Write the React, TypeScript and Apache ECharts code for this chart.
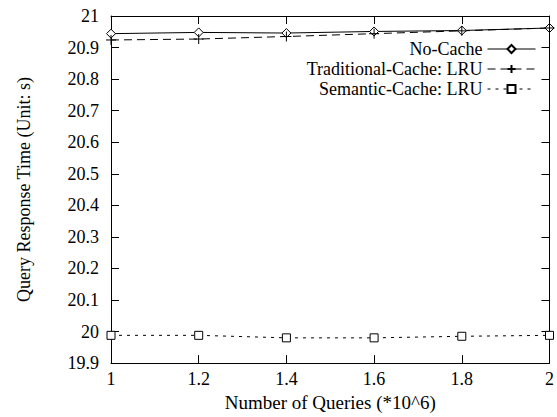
import React, { useEffect, useRef } from "react";
import * as echarts from "echarts";

const xValues = [1, 1.2, 1.4, 1.6, 1.8, 2];
const noCache = [20.944, 20.948, 20.946, 20.951, 20.954, 20.962];
const traditionalLRU = [20.924, 20.927, 20.935, 20.944, 20.953, 20.962];
const semanticLRU = [19.988, 19.988, 19.98, 19.98, 19.985, 19.988];
const seriesNames = ["No-Cache", "Traditional-Cache: LRU", "Semantic-Cache: LRU"];

const FONT = "Liberation Serif";
const FS = 18;

export default function App() {
  const ref = useRef<HTMLDivElement>(null);
  useEffect(() => {
    if (!ref.current) return;
    const chart = echarts.init(ref.current, null, { renderer: "svg" });
    const pair = (ys: number[]) => xValues.map((x, i) => [x, ys[i]]);
    const axisCommon = {
      axisLine: { show: true, lineStyle: { color: "#000", width: 1 } },
      axisTick: { show: true, inside: true, length: 8, lineStyle: { color: "#000" } },
      splitLine: { show: false },
    };
    chart.setOption({
      animation: false,
      backgroundColor: "#fff",
      textStyle: { fontFamily: FONT, color: "#000" },
      grid: { left: 111, right: 7, top: 16, bottom: 49 },
      legend: {
        orient: "vertical",
        right: 16,
        top: 35,
        align: "right",
        itemGap: 2,
        itemWidth: 48,
        itemHeight: 10,
        data: seriesNames,
        lineStyle: { width: 1 },
        textStyle: { fontFamily: FONT, fontSize: FS, lineHeight: 18, color: "#000", width: 220, align: "right" },
      },
      xAxis: [
        {
          type: "value",
          min: 1,
          max: 2,
          interval: 0.2,
          position: "bottom",
          name: "Number of Queries (*10^6)",
          nameLocation: "middle",
          nameGap: 29,
          nameTextStyle: { fontFamily: FONT, fontSize: 19, color: "#000" },
          axisLabel: { fontFamily: FONT, fontSize: FS, color: "#000", margin: 7 },
          ...axisCommon,
        },
        {
          type: "value",
          min: 1,
          max: 2,
          interval: 0.2,
          position: "top",
          axisLabel: { show: false },
          ...axisCommon,
        },
      ],
      yAxis: [
        {
          type: "value",
          min: 19.9,
          max: 21,
          interval: 0.1,
          position: "left",
          name: "Query Response Time (Unit: s)",
          nameLocation: "middle",
          nameGap: 78,
          nameTextStyle: { fontFamily: FONT, fontSize: FS, color: "#000" },
          axisLabel: {
            fontFamily: FONT,
            fontSize: FS,
            color: "#000",
            margin: 12,
            formatter: (v: number) => String(Math.round(v * 10) / 10),
          },
          ...axisCommon,
        },
        {
          type: "value",
          min: 19.9,
          max: 21,
          interval: 0.1,
          position: "right",
          axisLabel: { show: false },
          ...axisCommon,
        },
      ],
      series: [
        {
          name: seriesNames[0],
          type: "line",
          data: pair(noCache),
          symbol: "diamond",
          symbolSize: 9,
          lineStyle: { color: "#000", width: 1, type: "solid" },
          itemStyle: { color: "#fff", borderColor: "#000", borderWidth: 1 },
        },
        {
          name: seriesNames[1],
          type: "line",
          data: pair(traditionalLRU),
          symbol: "path://M0,5 L10,5 M5,0 L5,10",
          symbolSize: 10,
          lineStyle: { color: "#000", width: 1, type: [8, 5] },
          itemStyle: { color: "none", borderColor: "#000", borderWidth: 1 },
        },
        {
          name: seriesNames[2],
          type: "line",
          data: pair(semanticLRU),
          symbol: "rect",
          symbolSize: 8,
          lineStyle: { color: "#000", width: 1, type: [3, 5] },
          itemStyle: { color: "#fff", borderColor: "#000", borderWidth: 1 },
        },
      ],
    });
    return () => chart.dispose();
  }, []);
  return <div ref={ref} style={{ width: 557, height: 417, position: "absolute", left: 0, top: 0 }} />;
}
